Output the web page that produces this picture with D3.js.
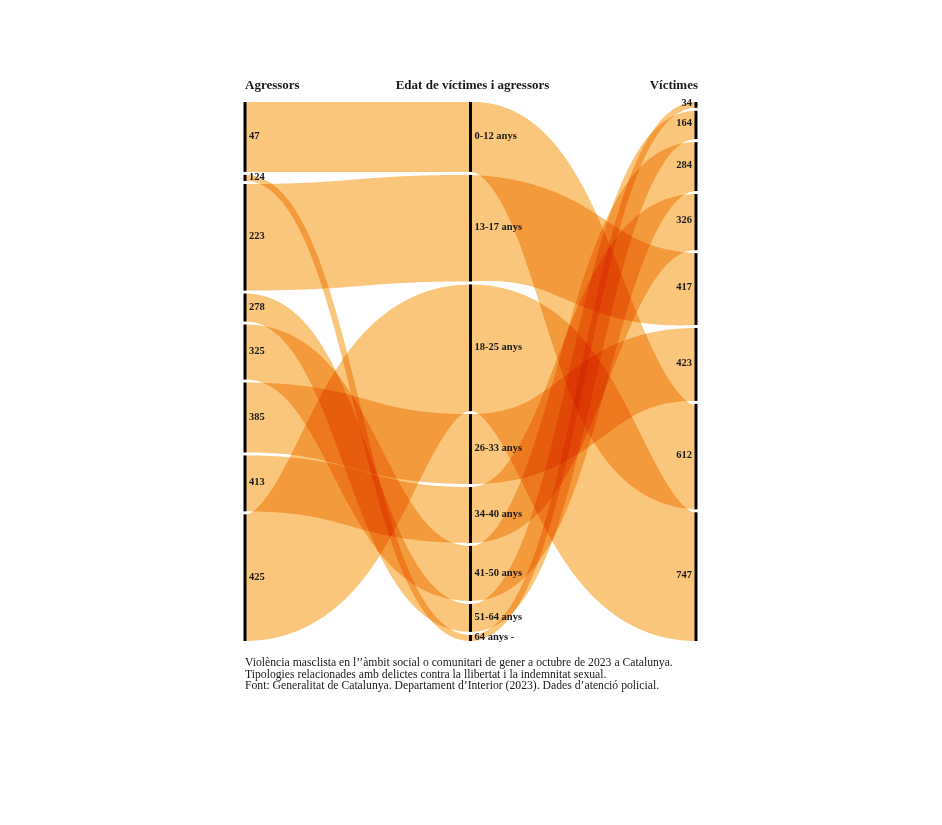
<!DOCTYPE html>
<html>
<head>
<meta charset="utf-8">
<script src="https://cdn.jsdelivr.net/npm/d3@7"></script>
<style>
  html, body { margin: 0; padding: 0; background: #fff; }
  svg { display: block; }
  .band { mix-blend-mode: multiply; }
  text { font-family: "Liberation Serif", "DejaVu Serif", Georgia, serif; fill: #1a1a1a; }
</style>
</head>
<body>
<svg id="chart" width="942" height="825"></svg>
<script>
// ---- data ----
const ageGroups = ["0-12 anys", "13-17 anys", "18-25 anys", "26-33 anys", "34-40 anys", "41-50 anys", "51-64 anys", "64 anys -"];
const aggressorValues = [400, 610, 725, 400, 320, 315, 160, 35];
const victimValues = [612, 417, 747, 423, 326, 284, 164, 34];
const leftOrder = ["0-12 anys", "64 anys -", "13-17 anys", "51-64 anys", "41-50 anys", "26-33 anys", "34-40 anys", "18-25 anys"];
const leftLabels = ["47", "124", "223", "278", "325", "385", "413", "425"];
const axisTitles = ["Agressors", "Edat de víctimes i agressors", "Víctimes"];
const captionLines = [
  "Violència masclista en l’’àmbit social o comunitari de gener a octubre de 2023 a Catalunya.",
  "Tipologies relacionades amb delictes contra la llibertat i la indemnitat sexual.",
  "Font: Generalitat de Catalunya. Departament d’Interior (2023). Dades d’atenció policial."
];

// ---- layout ----
const svg = d3.select("#chart");
const yTop = 102, yBottom = 641, gap = 3;
const x = d3.scalePoint().domain(axisTitles).range([245, 696]);

const aggByAge = new Map(ageGroups.map((g, i) => [g, aggressorValues[i]]));
const vicByAge = new Map(ageGroups.map((g, i) => [g, victimValues[i]]));
const rightOrder = ageGroups.slice().sort((a, b) => d3.ascending(vicByAge.get(a), vicByAge.get(b)));

function stack(order, valueMap) {
  const total = d3.sum(order, g => valueMap.get(g));
  const h = d3.scaleLinear().domain([0, total]).range([0, (yBottom - yTop) - gap * (order.length - 1)]);
  const pos = new Map();
  let y = yTop;
  order.forEach(g => {
    const y1 = y + h(valueMap.get(g));
    pos.set(g, [y, y1]);
    y = y1 + gap;
  });
  return pos;
}
const leftPos = stack(leftOrder, aggByAge);
const midPos = stack(ageGroups, aggByAge);
const rightPos = stack(rightOrder, vicByAge);

const xL = x(axisTitles[0]), xM = x(axisTitles[1]), xR = x(axisTitles[2]);

// ribbon: centre line is a horizontal cubic link, width measured perpendicular to it
function ribbon(xa, a, xb, b) {
  const ca = (a[0] + a[1]) / 2, cb = (b[0] + b[1]) / 2;
  const wa = a[1] - a[0], wb = b[1] - b[0];
  const xm = (xa + xb) / 2;
  const P = [[xa, ca], [xm, ca], [xm, cb], [xb, cb]];
  const N = 160, upper = [], lower = [];
  for (let i = 0; i <= N; i++) {
    const t = i / N, u = 1 - t;
    const px = u*u*u*P[0][0] + 3*u*u*t*P[1][0] + 3*u*t*t*P[2][0] + t*t*t*P[3][0];
    const py = u*u*u*P[0][1] + 3*u*u*t*P[1][1] + 3*u*t*t*P[2][1] + t*t*t*P[3][1];
    const dx = 3*u*u*(P[1][0]-P[0][0]) + 6*u*t*(P[2][0]-P[1][0]) + 3*t*t*(P[3][0]-P[2][0]);
    const dy = 3*u*u*(P[1][1]-P[0][1]) + 6*u*t*(P[2][1]-P[1][1]) + 3*t*t*(P[3][1]-P[2][1]);
    const len = Math.hypot(dx, dy) || 1;
    const nx = -dy / len, ny = dx / len;
    const hw = (wa + (wb - wa) * t) / 2;
    upper.push([px - nx * hw, py - ny * hw]);
    lower.push([px + nx * hw, py + ny * hw]);
  }
  return d3.line()(upper.concat(lower.reverse())) + "Z";
}

const gBands = svg.append("g");
ageGroups.forEach(g => {
  gBands.append("path").attr("class", "band")
    .attr("d", ribbon(xL, leftPos.get(g), xM, midPos.get(g)))
    .attr("fill", "#f9c67b");
});
ageGroups.forEach(g => {
  gBands.append("path").attr("class", "band")
    .attr("d", ribbon(xM, midPos.get(g), xR, rightPos.get(g)))
    .attr("fill", "#f9c67b");
});

// axes segments
function drawAxis(xp, pos) {
  const ga = svg.append("g");
  pos.forEach((v) => {
    ga.append("line").attr("x1", xp).attr("x2", xp).attr("y1", v[0]).attr("y2", v[1])
      .attr("stroke", "#000").attr("stroke-width", 3);
  });
}
drawAxis(xL, leftPos);
drawAxis(xM, midPos);
drawAxis(xR, rightPos);

// node labels
const lbl = svg.append("g").attr("font-size", 10.5).attr("font-weight", "bold");
leftOrder.forEach((g, i) => {
  const p = leftPos.get(g);
  lbl.append("text").attr("x", xL + 4).attr("y", (p[0] + p[1]) / 2).attr("dy", "0.2em").text(leftLabels[i]);
});
ageGroups.forEach(g => {
  const p = midPos.get(g);
  lbl.append("text").attr("x", xM + 4).attr("y", (p[0] + p[1]) / 2).attr("dy", "0.2em").text(g);
});
rightOrder.forEach(g => {
  const p = rightPos.get(g);
  lbl.append("text").attr("x", xR - 4).attr("y", (p[0] + p[1]) / 2).attr("dy", "0.1em")
    .attr("text-anchor", "end").text(vicByAge.get(g));
});

// titles
const tt = svg.append("g").attr("font-size", 13).attr("font-weight", "bold");
tt.append("text").attr("x", xL).attr("y", 89).text(axisTitles[0]);
tt.append("text").attr("x", xM + 2).attr("y", 89).attr("text-anchor", "middle").text(axisTitles[1]);
tt.append("text").attr("x", xR + 2).attr("y", 89).attr("text-anchor", "end").text(axisTitles[2]);

// caption
const cap = svg.append("g").attr("font-size", 11.7);
captionLines.forEach((t, i) => {
  cap.append("text").attr("x", xL).attr("y", 666 + i * 11.5).text(t);
});
</script>
</body>
</html>
